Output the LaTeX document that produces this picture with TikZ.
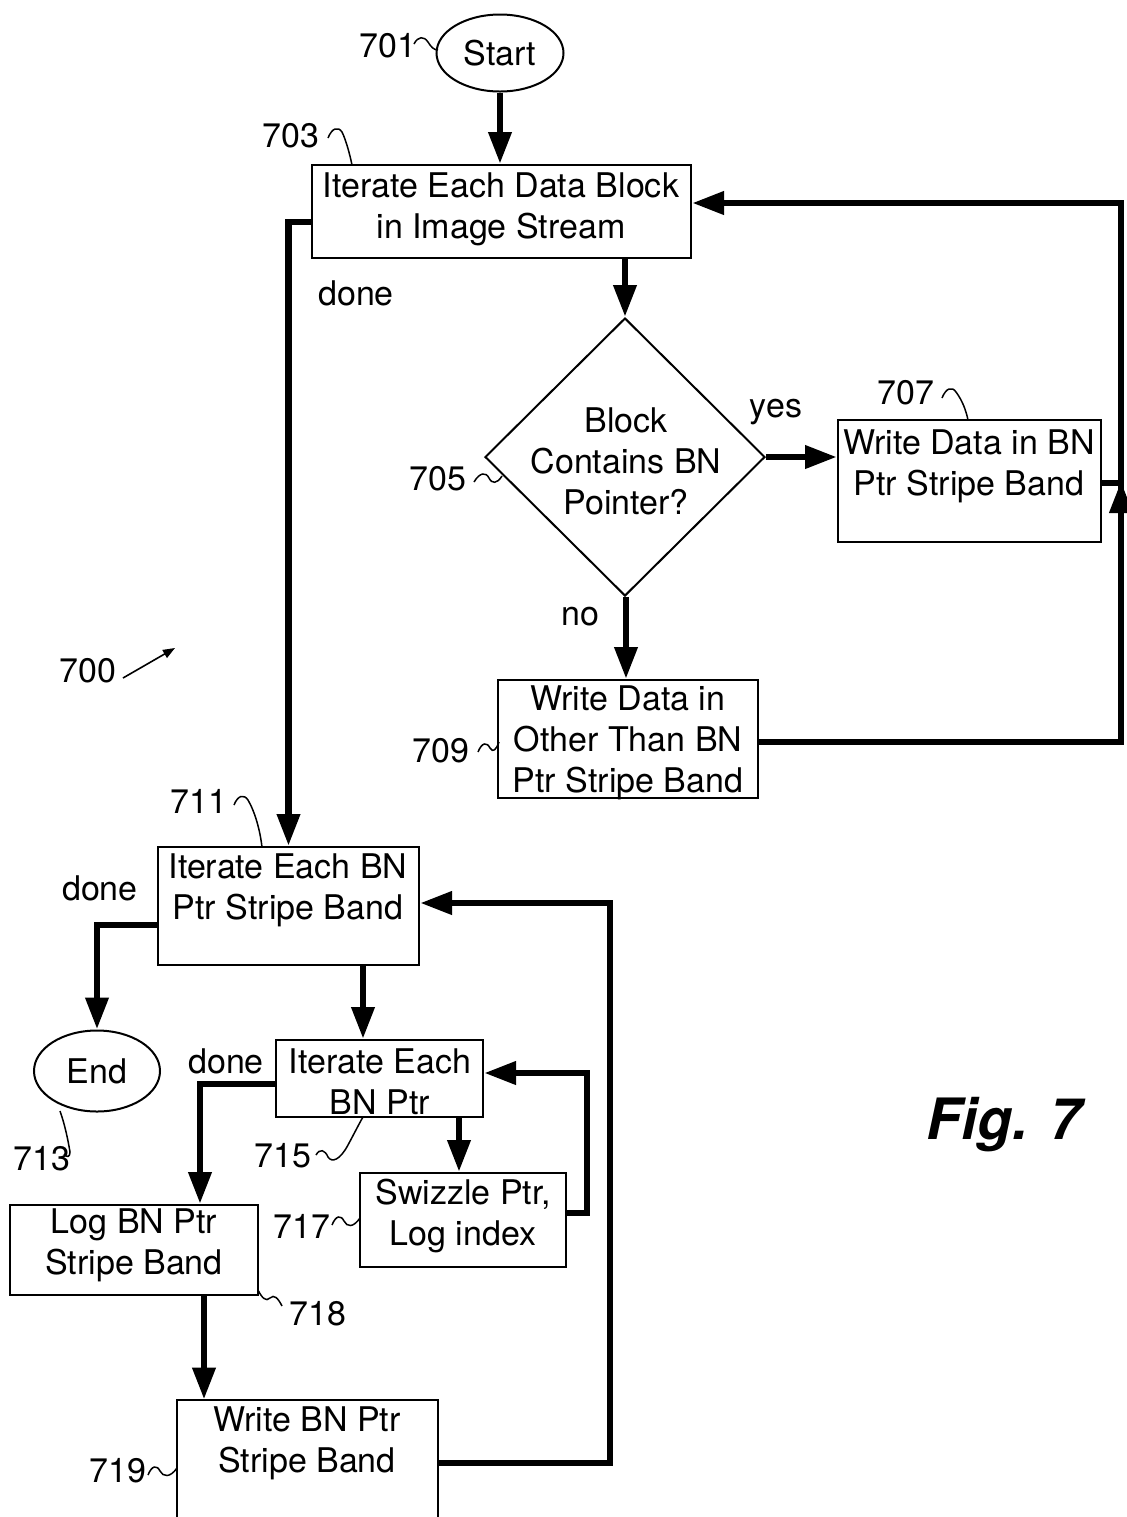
\documentclass[tikz,border=0pt]{standalone}
\usepackage{fontspec}
\setmainfont{TeX Gyre Heros}
\usetikzlibrary{arrows.meta,shapes.geometric}
\tikzset{
  txt/.style={font=\fontsize{17}{20.5}\selectfont, inner sep=0pt, align=center},
  box/.style={draw, line width=1pt, inner sep=0pt},
  oval/.style={ellipse, draw, line width=1pt, inner sep=0pt, font=\fontsize{17}{20.5}\selectfont},
  flow/.style={line width=3.4pt, -{Triangle[length=16pt,width=11pt]}},
  plain/.style={line width=3.4pt},
  lead/.style={line width=0.75pt},
  thinarrow/.style={line width=0.8pt, -{Triangle[length=6pt,width=4.5pt]}}
}
\begin{document}
\begin{tikzpicture}[x=0.5pt,y=-0.5pt]
\useasboundingbox (0,0) rectangle (1126,1517);
\fill[white] (0,0) rectangle (1126,1517);

% shapes
\node[oval, minimum width=63.5pt, minimum height=38.5pt] (st) at (500,53) {Start};
\node[box, minimum width=189.5pt, minimum height=46.5pt] (b703) at (501.5,211.5) {};
\node[diamond, draw, line width=1pt, inner sep=0pt, minimum width=140pt, minimum height=139pt] (dia) at (625,457) {};
\node[box, minimum width=131.5pt, minimum height=61pt] (b707) at (969.5,481) {};
\node[box, minimum width=130pt, minimum height=59pt] (b709) at (628,739) {};
\node[box, minimum width=130.5pt, minimum height=59pt] (b711) at (288.5,906) {};
\node[oval, minimum width=63pt, minimum height=40.5pt] (en) at (97,1071) {End};
\node[box, minimum width=103.5pt, minimum height=38.5pt] (b715) at (379.5,1078.5) {};
\node[box, minimum width=103pt, minimum height=47pt] (b717) at (463,1220) {};
\node[box, minimum width=124pt, minimum height=45pt] (b718) at (134,1250) {};
\node[inner sep=0pt, minimum width=130.5pt, minimum height=58.5pt] (b719) at (307.5,1458.5) {};
\draw[line width=1pt] (b719.south west) -- (b719.north west) -- (b719.north east) -- (b719.south east);

% box texts
\node[txt] (t703) at (501,209) {Iterate Each Data Block\\in Image Stream};
\node[txt] (t705) at (626,461) {Block\\Contains BN\\Pointer?};
\node[txt] (t707) at (969,466) {Write Data in BN\\Ptr Stripe Band};
\node[txt] (t709) at (628,743) {Write Data in\\Other Than BN\\Ptr Stripe Band};
\node[txt] (t711) at (288,890) {Iterate Each BN\\Ptr Stripe Band};
\node[txt] (t715) at (380,1082) {Iterate Each\\BN Ptr};
\node[txt] (t717) at (463,1216) {Swizzle Ptr,\\Log index};
\node[txt] (t718) at (134,1245) {Log BN Ptr\\Stripe Band};
\node[txt] (t719) at (307,1443) {Write BN Ptr\\Stripe Band};

% edge labels
\node[txt] (ldone1) at (356,293) {done};
\node[txt] (lyes) at (776,412) {yes};
\node[txt] (lno) at (580,617) {no};
\node[txt] (ldone2) at (100,888) {done};
\node[txt] (ldone3) at (226,1061) {done};

% reference numerals
\node[txt] (n701) at (388,46) {701};
\node[txt] (n703) at (291,136) {703};
\node[txt] (n705) at (438,479) {705};
\node[txt] (n707) at (906,393) {707};
\node[txt] (n709) at (441,751) {709};
\node[txt] (n711) at (199,801) {711};
\node[txt] (n713) at (42,1159) {713};
\node[txt] (n715) at (283,1156) {715};
\node[txt] (n717) at (302,1226) {717};
\node[txt] (n718) at (318,1314) {718};
\node[txt] (n719) at (118,1471) {719};
\node[txt] (n700) at (88,671) {700};
\node[inner sep=0pt, font=\fontsize{28.5}{30}\selectfont\bfseries\itshape] (fig) at (1004,1125) {Fig. 7};

% helper coordinates
\coordinate (r2) at (1121,203);
\coordinate (r3) at (1121,522);
\coordinate (x626) at (626,640);
\coordinate (x363) at (363,1000);
\coordinate (x200) at (200,1084);
\coordinate (x459) at (459,1140);
\coordinate (r4) at (587,1213);
\coordinate (r5) at (587,1073);
\coordinate (x204) at (204,1350);
\coordinate (r6) at (610,1463);
\coordinate (r7) at (610,903);
\coordinate (a700s) at (123,678);
\coordinate (a700e) at (175,648);

% connectors
\draw[flow] (st.south) -- (st.south |- b703.north);
\draw[flow] ([yshift=-5.25pt]b703.west) -| (b711.north);
\draw[flow] (dia.north |- b703.south) -- (dia.north);
\draw[flow] (dia.east) -- (dia.east -| b707.west);
\draw[flow] (x626 |- dia.south) -- (x626 |- b709.north);
\draw[flow] ([yshift=-1.5pt]b709.east) -| (r2) -- (r2 -| b703.east);
\draw[plain] ([yshift=-1pt]b707.east) -- ([yshift=-1pt]b707.east -| r2);
\draw[flow] (r3) -- (r3 |- b707.east);
\draw[flow] ([yshift=-9.5pt]b711.west) -| (en.north);
\draw[flow] (x363 |- b711.south) -- (x363 |- b715.north);
\draw[flow] (b715.west |- x200) -- (x200) -- (x200 |- b718.north);
\draw[flow] (x459 |- b715.south) -- (x459 |- b717.north);
\draw[flow] (b717.east |- r4) -- (r4) -- (r5) -- (r5 -| b715.east);
\draw[flow] (x204 |- b718.south) -- (x204 |- b719.north);
\draw[flow] (b719.east |- r6) -- (r6) -- (r7) -- (r7 -| b711.east);
\draw[thinarrow] (a700s) -- (a700e);

% leader lines
\draw[lead] (414,44) .. controls (418,36) and (424,36) .. (428,42) .. controls (431,47) and (434,50) .. (438,50);
\draw[lead] (328,138) .. controls (332,128) and (338,126) .. (342,132) .. controls (346,140) and (350,155) .. (352,165);
\draw[lead] (474,482) .. controls (480,472) and (486,472) .. (489,478) .. controls (492,484) and (497,484) .. (502,476);
\draw[lead] (942,398) .. controls (946,388) and (952,386) .. (956,392) .. controls (962,400) and (966,410) .. (968,420);
\draw[lead] (478,752) .. controls (482,742) and (487,742) .. (490,748) .. controls (493,753) and (496,750) .. (499,742);
\draw[lead] (234,805) .. controls (238,795) and (244,794) .. (248,800) .. controls (255,812) and (260,830) .. (262,847);
\draw[lead] (60,1111) .. controls (65,1125) and (68,1140) .. (70,1152) .. controls (70,1157) and (67,1158) .. (64,1154);
\draw[lead] (316,1155) .. controls (320,1148) and (325,1150) .. (328,1157) .. controls (332,1163) and (340,1160) .. (348,1145) .. controls (355,1132) and (360,1122) .. (363,1117);
\draw[lead] (332,1225) .. controls (336,1215) and (341,1215) .. (344,1221) .. controls (347,1227) and (353,1228) .. (360,1218);
\draw[lead] (258,1290) .. controls (262,1298) and (266,1302) .. (270,1298) .. controls (274,1294) and (278,1298) .. (282,1306);
\draw[lead] (148,1475) .. controls (152,1465) and (157,1465) .. (160,1471) .. controls (163,1477) and (170,1478) .. (177,1468);
\end{tikzpicture}
\end{document}
